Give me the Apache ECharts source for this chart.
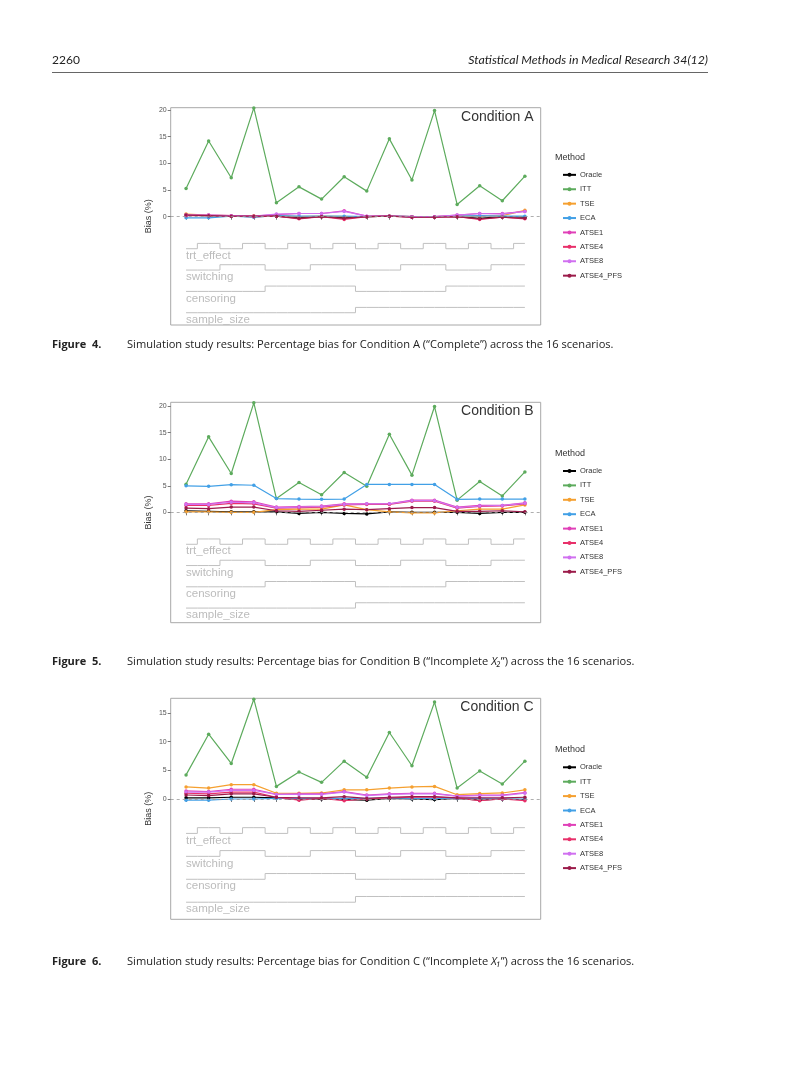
<!DOCTYPE html>
<html><head><meta charset="utf-8">
<script src="https://cdn.jsdelivr.net/npm/echarts@6/dist/echarts.min.js"></script>
<style>html,body{margin:0;padding:0;background:#fff}#c{width:789px;height:1079px}</style>
</head><body><div id="c"></div>
<script>
// ---- data ----
const scenarios = [1,2,3,4,5,6,7,8,9,10,11,12,13,14,15,16];
const methods = ['Oracle','ITT','TSE','ECA','ATSE1','ATSE4','ATSE8','ATSE4_PFS'];
const methodColors = ['#000000','#5dab5d','#f5a030','#42a0e6','#e040b8','#e8306a','#d070f0','#9b1b4a'];

// Condition A
const A_Oracle    = [0.3,0.2,0.1,0.0,0.1,-0.2,0.0,-0.2,0.0,0.1,0.0,0.0,0.0,-0.3,0.0,-0.1];
const A_ITT       = [5.3,14.2,7.3,20.4,2.6,5.6,3.3,7.5,4.8,14.6,6.9,19.9,2.3,5.8,3.0,7.6];
const A_TSE       = [0.5,0.3,0.2,0.2,0.2,0.0,0.1,0.0,0.0,0.1,0.0,0.0,0.1,0.1,0.2,1.2];
const A_ECA       = [-0.2,-0.2,0.1,-0.1,0.2,0.1,0.1,0.1,0.0,0.1,0.0,0.0,0.1,0.2,0.1,0.1];
const A_ATSE1     = [0.3,0.3,0.2,0.1,0.4,0.6,0.6,1.1,0.1,0.1,0.0,0.0,0.3,0.6,0.6,1.0];
const A_ATSE4     = [0.2,0.2,0.1,0.0,0.1,-0.4,0.0,-0.5,0.0,0.1,-0.1,-0.1,0.0,-0.5,-0.1,-0.4];
const A_ATSE8     = [0.3,0.3,0.2,0.1,0.5,0.6,0.6,1.0,0.1,0.1,0.0,0.0,0.3,0.6,0.5,1.0];
const A_ATSE4_PFS = [0.3,0.2,0.1,0.1,0.1,-0.3,0.0,-0.3,0.0,0.1,-0.1,-0.1,0.0,-0.4,-0.1,-0.3];

// Condition B
const B_Oracle    = [0.3,0.2,0.1,0.1,0.1,-0.2,0.0,-0.2,-0.3,0.1,0.0,0.0,0.0,-0.2,0.0,0.0];
const B_ITT       = [5.3,14.2,7.3,20.6,2.6,5.6,3.3,7.5,4.9,14.7,7.0,19.9,2.3,5.8,3.1,7.6];
const B_TSE       = [0.1,0.1,0.0,0.0,0.5,0.6,0.6,1.4,0.5,0.1,-0.1,-0.1,0.3,0.6,0.6,1.4];
const B_ECA       = [5.0,4.9,5.2,5.1,2.6,2.5,2.45,2.5,5.25,5.25,5.25,5.25,2.45,2.5,2.5,2.5];
const B_ATSE1     = [1.6,1.6,2.1,2.0,1.0,1.1,1.2,1.6,1.6,1.6,2.3,2.3,1.0,1.3,1.3,1.8];
const B_ATSE4     = [1.3,1.3,1.7,1.6,0.8,0.9,1.0,1.4,1.5,1.5,2.1,2.1,0.8,1.1,1.2,1.6];
const B_ATSE8     = [1.5,1.5,1.9,1.8,0.9,1.0,1.1,1.5,1.6,1.6,2.2,2.2,0.9,1.2,1.3,1.7];
const B_ATSE4_PFS = [0.8,0.7,1.0,1.0,0.3,0.2,0.4,0.6,0.5,0.7,0.9,0.9,0.2,0.2,0.3,0.1];

// Condition C
const C_Oracle    = [0.2,0.2,0.3,0.3,0.2,-0.1,0.0,-0.1,-0.2,0.1,0.0,-0.1,0.1,-0.2,0.0,-0.1];
const C_ITT       = [4.2,11.3,6.2,17.4,2.2,4.7,2.9,6.6,3.8,11.6,5.8,16.9,1.9,4.9,2.6,6.6];
const C_TSE       = [2.1,1.9,2.5,2.5,1.0,1.0,1.05,1.6,1.6,1.9,2.1,2.2,0.75,0.95,1.05,1.6];
const C_ECA       = [-0.2,-0.2,0.0,0.0,0.1,0.1,0.1,0.1,0.1,0.2,0.1,0.1,0.1,0.1,0.0,0.0];
const C_ATSE1     = [1.4,1.3,1.7,1.7,0.8,0.9,0.9,1.3,0.7,0.9,1.0,1.0,0.5,0.7,0.7,1.1];
const C_ATSE4     = [1.0,0.9,1.2,1.2,0.3,-0.2,0.1,-0.3,0.0,0.2,0.3,0.3,0.2,-0.3,0.0,-0.3];
const C_ATSE8     = [1.2,1.2,1.5,1.5,0.8,0.8,0.8,1.2,0.6,0.8,0.9,0.9,0.5,0.6,0.6,1.0];
const C_ATSE4_PFS = [0.7,0.6,0.9,0.9,0.3,0.2,0.2,0.4,0.1,0.3,0.4,0.4,0.2,0.2,0.2,0.3];

// nested loop factor levels (0 = low, 1 = high)
const loopNames   = ['trt_effect','switching','censoring','sample_size'];
const trt_effect  = [0,1,0,1,0,1,0,1,0,1,0,1,0,1,0,1];
const switching   = [0,0,1,1,0,0,1,1,0,0,1,1,0,0,1,1];
const censoring   = [0,0,0,0,1,1,1,1,0,0,0,0,1,1,1,1];
const sample_size = [0,0,0,0,0,0,0,0,1,1,1,1,1,1,1,1];

// tick labels
const yTicksAB = [0,5,10,15,20];
const yTicksC  = [0,5,10,15];
const conditionLabels = ['Condition A','Condition B','Condition C'];

// ---- layout ----
const loopLevels = [trt_effect, switching, censoring, sample_size];
const loopBase = [-6,-10,-14,-18];
const panels = [
  {top:107.7, height:217.3, min:-20.3, max:20.44, ticks:yTicksAB, data:[A_Oracle,A_ITT,A_TSE,A_ECA,A_ATSE1,A_ATSE4,A_ATSE8,A_ATSE4_PFS]},
  {top:402.3, height:220.4, min:-20.75, max:20.7, ticks:yTicksAB, data:[B_Oracle,B_ITT,B_TSE,B_ECA,B_ATSE1,B_ATSE4,B_ATSE8,B_ATSE4_PFS]},
  {top:698.3, height:221, min:-20.98, max:17.56, ticks:yTicksC, data:[C_Oracle,C_ITT,C_TSE,C_ECA,C_ATSE1,C_ATSE4,C_ATSE8,C_ATSE4_PFS]}
];
const LEFT = 170.7, WIDTH = 370;

const grid=[], xAxis=[], yAxis=[], series=[], legend=[], graphic=[];
const font = 'Liberation Sans, Arial, sans-serif';

panels.forEach((p, k) => {
  grid.push({left:LEFT, top:p.top, width:WIDTH, height:p.height, show:true,
    borderColor:'#a8a8a8', borderWidth:1, backgroundColor:'transparent', containLabel:false});
  xAxis.push({type:'value', gridIndex:k, min:0.32, max:16.7,
    axisLine:{show:false}, splitLine:{show:false},
    axisTick:{show:true, length:3, lineStyle:{color:'#555', width:0.8}, customValues:scenarios},
    axisLabel:{show:false}});
  yAxis.push({type:'value', gridIndex:k, min:p.min, max:p.max,
    name:'Bias (%)', nameLocation:'middle', nameGap:18,
    nameTextStyle:{fontSize:9, color:'#333', fontFamily:font},
    axisLine:{show:false}, splitLine:{show:false},
    axisTick:{show:true, length:3, lineStyle:{color:'#555', width:0.8}, customValues:p.ticks},
    axisLabel:{show:true, fontSize:7, color:'#555', margin:4, fontFamily:font, customValues:p.ticks}});
  // step indicator lines
  loopLevels.forEach((lv, j) => {
    series.push({type:'line', xAxisIndex:k, yAxisIndex:k, step:'middle', silent:true,
      symbol:'circle', symbolSize:0.1, showSymbol:true, z:1,
      lineStyle:{color:'#c0c0c0', width:1}, itemStyle:{color:'#c0c0c0'},
      data: scenarios.map((s,i) => {
        const d = {value:[s, loopBase[j] + lv[i]]};
        if (i === 0) d.label = {show:true, position:'bottom', align:'left', distance:1,
          formatter: loopNames[j], color:'#bcbcbc', fontSize:11.5, fontFamily:font};
        return d;
      })});
  });
  // method lines
  methods.forEach((m, j) => {
    const s = {type:'line', name:m, xAxisIndex:k, yAxisIndex:k, symbol:'circle', symbolSize:3.5,
      color:methodColors[j], lineStyle:{width:1.2, color:methodColors[j]}, itemStyle:{color:methodColors[j]},
      z: 3, data: scenarios.map((x,i) => [x, p.data[j][i]])};
    if (j === 0) s.markLine = {silent:true, symbol:'none', label:{show:false},
      lineStyle:{color:'#999', type:[3,3], width:0.8}, data:[{yAxis:0}]};
    series.push(s);
  });
  const mid = p.top + p.height/2;
  legend.push({data:methods, orient:'vertical', left:557, top: mid - 50.5,
    itemWidth:13, itemHeight:5, itemGap:6.4, selectedMode:false,
    textStyle:{fontSize:7.5, color:'#333', fontFamily:font, padding:[0,0,0,-1]}});
  graphic.push({type:'text', left:555, top: mid - 63.5, style:{text:'Method', font:'9px '+font, fill:'#333'}});
  graphic.push({type:'text', right:789-533.5, top: p.top + 2, style:{text:conditionLabels[k], font:'14px '+font, fill:'#333'}});
});

// header
graphic.push({type:'text', left:52, top:54, style:{text:'2260', font:'12px Lato, sans-serif', fill:'#222'}});
graphic.push({type:'text', right:81, top:54, style:{text:'Statistical Methods in Medical Research 34(12)', font:'italic 12.3px Lato, sans-serif', fill:'#222'}});
graphic.push({type:'line', shape:{x1:52, y1:72.5, x2:708, y2:72.5}, style:{stroke:'#666', lineWidth:1}});

// captions
const CF = '"Open Sans", sans-serif';
const capRich = {b:{fontWeight:'bold', fontSize:11, fontFamily:CF, fill:'#222', width:75},
                 n:{fontSize:11.1, fontFamily:CF, fill:'#222'},
                 i:{fontStyle:'italic', fontSize:11.1, fontFamily:CF, fill:'#222'}};
const captions = [
  {top:339.5, text:'{b|Figure  4.}{n|Simulation study results: Percentage bias for Condition A (“Complete”) across the 16 scenarios.}'},
  {top:656.5, text:'{b|Figure  5.}{n|Simulation study results: Percentage bias for Condition B (“Incomplete }{i|X₂}{n|”) across the 16 scenarios.}'},
  {top:956.5, text:'{b|Figure  6.}{n|Simulation study results: Percentage bias for Condition C (“Incomplete }{i|X₁}{n|”) across the 16 scenarios.}'}
];
captions.forEach(c => graphic.push({type:'text', left:52, top:c.top, style:{text:c.text, rich:capRich, font:'11px '+CF, fill:'#222'}}));

const chart = echarts.init(document.getElementById('c'), null, {renderer:'canvas'});
chart.setOption({animation:false, backgroundColor:'#fff', grid, xAxis, yAxis, series, legend, graphic});
</script>
</body></html>
